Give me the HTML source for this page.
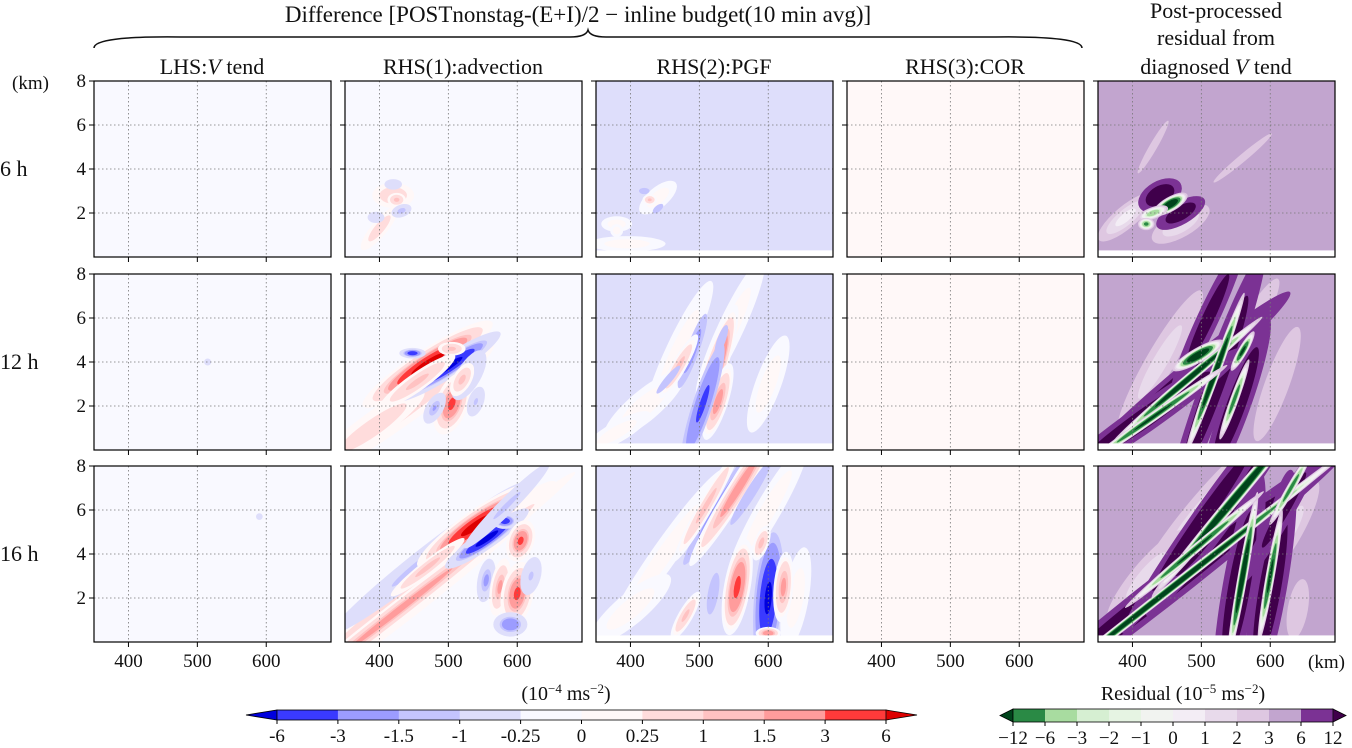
<!DOCTYPE html>
<html><head><meta charset="utf-8">
<style>
html,body{margin:0;padding:0;background:#fff;}
svg{display:block;font-family:"Liberation Serif",serif;}
</style></head>
<body>
<svg id="fig" width="1352" height="748" viewBox="0 0 1352 748" xmlns="http://www.w3.org/2000/svg">
<g id="panels"></g>
<g id="texts" font-size="22" fill="#111">
  <text x="578" y="22" text-anchor="middle" font-size="23">Difference [POSTnonstag-(E+I)/2 − inline budget(10 min avg)]</text>
  <path d="M94,48 Q94,36 180,37 L570,37 Q586,37 588,30 Q590,37 606,37 L996,37 Q1082,36 1082,48" fill="none" stroke="#111" stroke-width="1.5"/>
  <text x="212" y="74" text-anchor="middle">LHS:<tspan font-style="italic">V</tspan> tend</text>
  <text x="463" y="74" text-anchor="middle">RHS(1):advection</text>
  <text x="714" y="74" text-anchor="middle">RHS(2):PGF</text>
  <text x="965" y="74" text-anchor="middle">RHS(3):COR</text>
  <text x="1216" y="18" text-anchor="middle">Post-processed</text>
  <text x="1216" y="45" text-anchor="middle">residual from</text>
  <text x="1216" y="74" text-anchor="middle">diagnosed <tspan font-style="italic">V</tspan> tend</text>
  <text x="12" y="89" font-size="19">(km)</text>
  <text x="1308" y="668" font-size="19">(km)</text>
  <text x="0" y="176">6 h</text>
  <text x="0" y="369">12 h</text>
  <text x="0" y="561">16 h</text>
  <text x="566" y="700" text-anchor="middle" font-size="20">(10<tspan dy="-7" font-size="13">−4</tspan><tspan dy="7"> ms</tspan><tspan dy="-7" font-size="13">−2</tspan><tspan dy="7">)</tspan></text>
  <text x="1183" y="700" text-anchor="middle" font-size="20">Residual (10<tspan dy="-7" font-size="13">−5</tspan><tspan dy="7"> ms</tspan><tspan dy="-7" font-size="13">−2</tspan><tspan dy="7">)</tspan></text>
</g>
<g id="cbars"></g>
</svg>
<script>
// ---- data ----
const divLevels = [-6,-3,-1.5,-1,-0.25,0,0.25,1,1.5,3,6];
const divColors = ['#0000dd','#3a3aff','#9c9cff','#c4c4fe','#dedefb','#f9f9ff','#fff8f8','#ffdcdc','#ffc2c2','#ff9c9c','#ff3a3a','#dd0000'];
const divTickLabels = ['-6','-3','-1.5','-1','-0.25','0','0.25','1','1.5','3','6'];
const resLevels = [-12,-6,-3,-2,-1,0,1,2,3,6,12];
const resColors = ['#00441b','#2a8a45','#a8dca0','#d6efd2','#e6f4e3','#f1f3f0','#f3edf5','#e8daeb','#dec7e1','#c2a5cf','#7b3294','#40004b'];
const resTickLabels = ['−12','−6','−3','−2','−1','0','1','2','3','6','12'];
const xTicks = [400,500,600];
const yTicks = [2,4,6,8];
// background value of each column
const bgValues = [-0.1,-0.1,-0.6,0.1,4.5];
// blobs: [x km, z km, sigma along, sigma across, angle deg, peak value]
const blobs = {
 '0-0': [],
 '0-1': [[400,1.3,14,4,-50,0.6],[420,2.8,10,6,0,0.8],[425,2.6,4,3,0,1.3],[432,2.1,5,3,-20,-1.4],[420,3.3,5,3,0,-0.8],[395,1.8,6,4,0,-0.5]],
 '0-2': [[395,0.6,30,6,0,0.2],[380,1.5,12,6,0,0.2],[440,2.7,18,8,-40,0.2],[420,3,5,3,0,-1.3],[428,2.6,4,3,0,1.2],[440,2.2,6,3,-40,-1.3],[380,1.2,5,5,0,0.2]],
 '0-3': [],
 '0-4': [[390,1.8,25,8,-40,0.5],[470,1.5,25,10,-30,1],[560,4.5,50,5,-40,2.5],[430,5,40,5,-60,2.5],[440,2.8,10,6,-30,30],[470,2.0,12,5,-30,25],[455,2.4,8,3,-30,-25],[430,2.0,8,3,-20,-6],[420,1.5,4,3,0,-8]],
 '1-0': [[515,4,2,2,0,-0.8]],
 '1-1': [[420,1.6,60,8,-35,0.7],[390,1.0,30,6,-35,0.8],[470,3.9,26,5,-33,8],[500,3.8,22,4,-33,-8],[455,3.1,20,4,-35,1.3],[505,2.1,12,6,-70,3.5],[480,1.9,8,4,-60,-1.6],[530,3.4,14,6,-60,-1.2],[520,3.2,8,4,-60,1.3],[448,4.4,5,2,0,-5],[505,4.6,6,3,0,1.3],[540,2.2,8,4,-70,-1.1]],
 '1-2': [[470,4.5,60,10,-65,0.2],[545,5.5,60,10,-65,0.2],[420,2,40,12,-40,0.2],[600,3,40,10,-70,0.2],[380,0.8,30,8,-30,0.2],[520,3.4,32,5,-72,4.5],[527,2.2,20,5,-72,2],[505,2.1,32,5,-72,-3.5],[490,4.5,25,4,-70,-2],[532,5,15,4,-70,-1.3],[470,3.8,20,4,-60,1.3],[455,3.2,20,4,-50,-1.2]],
 '1-3': [],
 '1-4': [[440,4,70,12,-60,1.5],[560,5,60,10,-60,1.5],[610,3,60,12,-70,2],[470,3,60,6,-40,30],[520,3,60,6,-70,30],[550,2,40,6,-70,30],[420,1.5,50,6,-35,30],[510,6,40,5,-65,20],[480,3.2,40,2,-40,-25],[520,3.5,35,2,-70,-25],[495,4.3,12,3,-30,-25],[560,4.5,10,2,-60,-15],[430,1.5,40,2,-35,-15],[548,2.3,20,2,-70,-10]],
 '2-0': [[590,5.7,2,2,0,-0.7]],
 '2-1': [[440,2,90,9,-38,0.8],[430,1.5,90,4,-38,2],[470,3.8,60,6,-38,-1.3],[540,5.3,24,5,-35,8],[556,4.7,18,3.5,-35,-8],[582,5.5,5,3,0,-5],[605,4.6,8,5,-70,3.5],[585,6.2,30,4,-45,-1.2],[555,2.8,10,4,-80,-1.8],[575,2.5,12,4,-80,1.8],[600,2.2,12,6,-80,3.5],[590,0.8,7,5,0,-3],[620,3,10,5,-75,-1.1],[470,3.4,20,3,-38,1.4]],
 '2-2': [[450,4,80,10,-55,0.2],[600,6,60,10,-60,0.2],[400,1.5,40,12,-40,0.2],[640,2,40,10,-80,0.2],[535,6.4,45,5,-58,-2.2],[557,7,45,5,-58,2.2],[510,6.2,35,4,-60,1.3],[575,6.8,30,4,-58,-1.5],[555,2.5,22,6,-80,3.5],[600,2,28,6,-85,-7],[622,2.5,18,5,-85,1.8],[520,2.2,20,5,-80,-1.3],[590,4.5,10,4,-70,1.3],[600,0.4,6,3,0,2.5],[480,1.2,15,4,-60,1.2]],
 '2-3': [],
 '2-4': [[500,6,80,12,-50,1.5],[625,5,50,12,-60,1.5],[420,3,50,12,-50,1.5],[640,1.5,30,10,-80,2],[450,2.5,100,7,-38,30],[540,6.5,60,7,-55,30],[555,2.5,50,7,-80,30],[600,2.5,50,7,-80,30],[500,5.5,60,5,-55,25],[620,6,40,5,-60,18],[450,2.3,100,2,-38,-25],[545,6.4,50,2.5,-50,-30],[560,3,35,2,-80,-25],[600,3,30,2,-80,-15],[630,7,20,2,-60,-10],[490,4.2,40,2,-40,-15]]
};
// ---- geometry ----
const colLeft = [94,345,596,847,1098];
const rowTop = [81,274,466];
const PW = 237, PH = 176;
const X0 = 350, X1 = 694, Z0 = 0, Z1 = 8;
const NS='http://www.w3.org/2000/svg';
function mk(tag, attrs, parent){const e=document.createElementNS(NS,tag);for(const k in attrs)e.setAttribute(k,attrs[k]);if(parent)parent.appendChild(e);return e;}
function xs(c,v){return colLeft[c]+(v-X0)/(X1-X0)*PW;}
function ys(r,v){return rowTop[r]+PH-(v-Z0)/(Z1-Z0)*PH;}
function colorFor(levels, colors, v){let i=0;while(i<levels.length && v>levels[i])i++;return colors[i];}
const panels=document.getElementById('panels');
for(let r=0;r<3;r++){for(let c=0;c<5;c++){
  const isRes = c===4;
  const levels = isRes?resLevels:divLevels, colors = isRes?resColors:divColors;
  const bg = bgValues[c];
  const g = mk('g',{},panels);
  
  
  const cid='clip'+r+c;
  const cp=mk('clipPath',{id:cid},g);
  mk('rect',{x:colLeft[c],y:rowTop[r],width:PW,height:PH},cp);
  const field=mk('g',{'clip-path':'url(#'+cid+')'},g);
  
  
  mk('rect',{x:colLeft[c],y:rowTop[r],width:PW,height:PH,fill:colorFor(levels,colors,bg)},field);
  for(const b of blobs[r+'-'+c]){
    const [bx,bz,sa,sb,ang,p]=b;
    const cx=xs(c,bx), cy=ys(r,bz);
    let th = p>bg ? levels.filter(t=>t>bg && t<p) : levels.filter(t=>t<bg && t>p).reverse();
    for(let k=0;k<th.length;k++){
      const t=th[k];
      const s=Math.sqrt(2*Math.log((p-bg)/(t-bg)));
      const probe = p>bg ? (k+1<th.length? (t+th[k+1])/2 : t+0.01) : (k+1<th.length? (t+th[k+1])/2 : t-0.01);
      const e=mk('ellipse',{cx:cx,cy:cy,rx:sa*s,ry:sb*s,transform:'rotate('+ang+' '+cx+' '+cy+')',fill:colorFor(levels,colors,probe)},field);
      
      
    }
  }
  if(c===2||c===4){mk('rect',{x:colLeft[c],y:ys(r,0.3),width:PW,height:ys(r,0)-ys(r,0.3),fill:'#fff'},field);}
  for(const t of xTicks){const l=mk('line',{x1:xs(c,t),x2:xs(c,t),y1:rowTop[r],y2:rowTop[r]+PH,stroke:'#777','stroke-width':0.8,'stroke-dasharray':'1.5,2.5'},g);}
  for(const t of [2,4,6]){const l=mk('line',{x1:colLeft[c],x2:colLeft[c]+PW,y1:ys(r,t),y2:ys(r,t),stroke:'#777','stroke-width':0.8,'stroke-dasharray':'1.5,2.5'},g);}
  const fr=mk('rect',{x:colLeft[c],y:rowTop[r],width:PW,height:PH,fill:'none',stroke:'#000','stroke-width':1.2},g);
  
  for(const t of xTicks){mk('line',{x1:xs(c,t),x2:xs(c,t),y1:rowTop[r]+PH,y2:rowTop[r]+PH+5,stroke:'#000'},g);
    if(r===2){const tx=mk('text',{x:xs(c,t),y:rowTop[r]+PH+25,'text-anchor':'middle','font-size':19,fill:'#111'},g);tx.textContent=t;
      }}
  for(const t of yTicks){mk('line',{x1:colLeft[c]-5,x2:colLeft[c],y1:ys(r,t),y2:ys(r,t),stroke:'#000'},g);
    if(c===0){const tx=mk('text',{x:colLeft[c]-8,y:ys(r,t)+6,'text-anchor':'end','font-size':19,fill:'#111'},g);tx.textContent=t;
      }}
}}
// ---- colorbars ----
function colorbar(x0,x1,y0,y1,tip,colors,labels,name){
  const g=mk('g',{},document.getElementById('cbars'));
  
  
  const n=colors.length-2, w=(x1-x0)/n, ym=(y0+y1)/2;
  mk('polygon',{points:`${x0},${y0} ${x0},${y1} ${x0-tip},${ym}`,fill:colors[0],stroke:'#000','stroke-width':0.8},g);
  mk('polygon',{points:`${x1},${y0} ${x1},${y1} ${x1+tip},${ym}`,fill:colors[colors.length-1],stroke:'#000','stroke-width':0.8},g);
  for(let i=0;i<n;i++){const s=mk('rect',{x:x0+i*w,y:y0,width:w+0.5,height:y1-y0,fill:colors[i+1]},g);}
  mk('rect',{x:x0,y:y0,width:x1-x0,height:y1-y0,fill:'none',stroke:'#000','stroke-width':0.8},g);
  labels.forEach((lb,i)=>{const x=x0+i*w;mk('line',{x1:x,x2:x,y1:y1,y2:y1+4,stroke:'#000'},g);
    const t=mk('text',{x:x,y:y1+22,'text-anchor':'middle','font-size':19,fill:'#111'},g);t.textContent=lb;
    });
}
colorbar(277,886,710,720,31,divColors,divTickLabels,'tendency-colorbar');
colorbar(1013,1333,709,722,13,resColors,resTickLabels,'residual-colorbar');
</script>
</body></html>
